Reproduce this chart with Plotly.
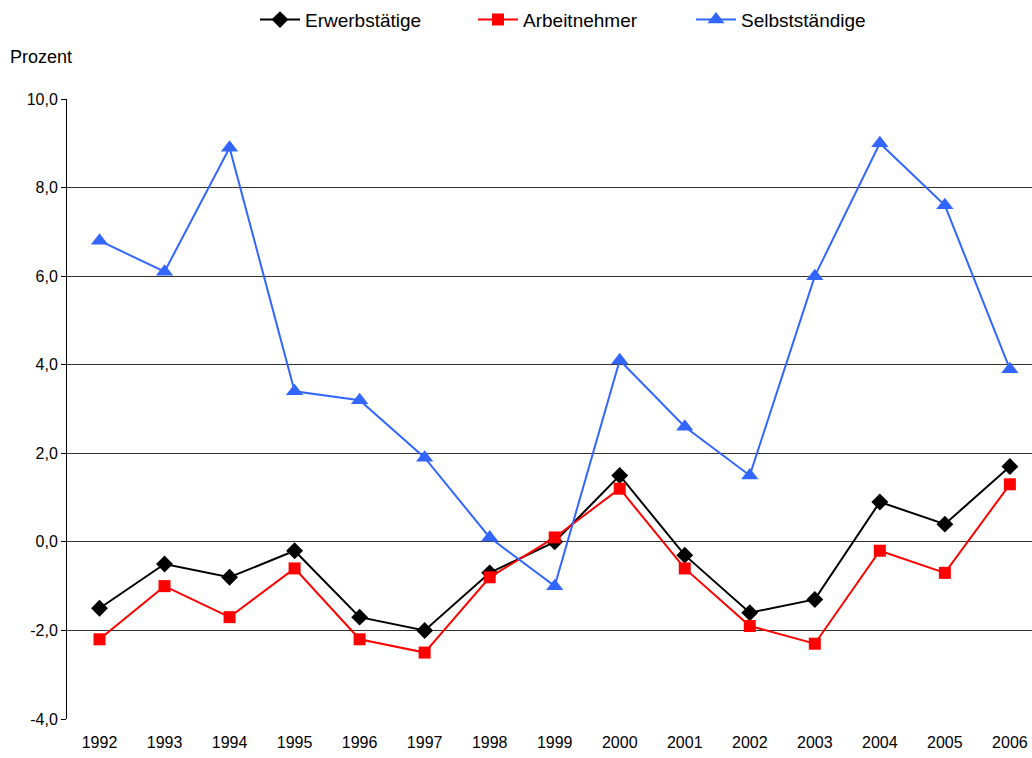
import plotly.graph_objects as go

years = ["1992", "1993", "1994", "1995", "1996", "1997", "1998", "1999",
         "2000", "2001", "2002", "2003", "2004", "2005", "2006"]
erwerbstaetige = [-1.5, -0.5, -0.8, -0.2, -1.7, -2.0, -0.7, 0.0, 1.5, -0.3, -1.6, -1.3, 0.9, 0.4, 1.7]
arbeitnehmer = [-2.2, -1.0, -1.7, -0.6, -2.2, -2.5, -0.8, 0.1, 1.2, -0.6, -1.9, -2.3, -0.2, -0.7, 1.3]
selbststaendige = [6.8, 6.1, 8.9, 3.4, 3.2, 1.9, 0.1, -1.0, 4.1, 2.6, 1.5, 6.0, 9.0, 7.6, 3.9]
y_ticks = [-4, -2, 0, 2, 4, 6, 8, 10]
y_ticktext = ["-4,0", "-2,0", "0,0", "2,0", "4,0", "6,0", "8,0", "10,0"]

xi = list(range(len(years)))

fig = go.Figure()
fig.add_trace(go.Scatter(x=xi, y=erwerbstaetige, name="Erwerbstätige", mode="lines+markers",
                         line=dict(color="#000000", width=2),
                         marker=dict(symbol="diamond", size=13, color="#000000")))
fig.add_trace(go.Scatter(x=xi, y=arbeitnehmer, name="Arbeitnehmer", mode="lines+markers",
                         line=dict(color="#ff0000", width=2),
                         marker=dict(symbol="square", size=12, color="#ff0000")))
fig.add_trace(go.Scatter(x=xi, y=selbststaendige, name="Selbstständige", mode="lines+markers",
                         line=dict(color="#3366ff", width=2),
                         marker=dict(symbol="triangle-up", size=15, color="#3366ff")))

plot_w = 1032 - 67
plot_h = 758 - 99 - 39

fig.update_layout(
    width=1032, height=758,
    margin=dict(l=67, r=0, t=99, b=39),
    paper_bgcolor="white", plot_bgcolor="white",
    font=dict(family="Liberation Sans, Arial, sans-serif", size=16, color="#000000"),
    showlegend=True,
    legend=dict(orientation="h", x=(255 - 67) / plot_w, xanchor="left", y=0.999, yanchor="top",
                yref="container", font=dict(size=19), itemwidth=40,
                entrywidth=163, entrywidthmode="pixels",
                tracegroupgap=0),
    xaxis=dict(range=[-0.5, 14.34], tickmode="array", tickvals=xi, ticktext=years,
               showgrid=False, zeroline=False, showline=False, ticks="",
               ticklabelstandoff=12, tickfont=dict(size=16)),
    yaxis=dict(range=[-4, 10], tickmode="array", tickvals=y_ticks, ticktext=y_ticktext,
               showgrid=True, gridcolor="#333333", gridwidth=1, zeroline=False,
               showline=True, linecolor="#000000", linewidth=1,
               ticks="outside", ticklen=5, tickcolor="#000000",
               tickfont=dict(size=16)),
    annotations=[dict(text="Prozent", x=(8 - 67) / plot_w, y=(719 - 57) / plot_h,
                      xref="paper", yref="paper", xanchor="left", yanchor="middle",
                      showarrow=False, font=dict(size=18))],
)

fig.write_html("out.html", config={"displayModeBar": False},
               post_script="document.body.style.margin='0';")
